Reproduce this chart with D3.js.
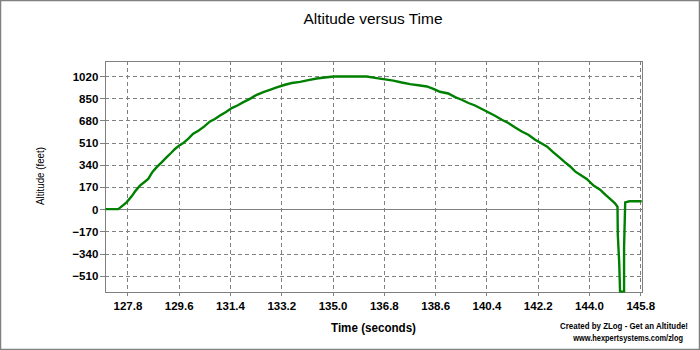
<!DOCTYPE html>
<html>
<head>
<meta charset="utf-8">
<script src="https://cdn.jsdelivr.net/npm/d3@7"></script>
<style>
html,body{margin:0;padding:0;background:#fff;}
svg{display:block;}
text{font-family:"Liberation Sans",Arial,sans-serif;fill:#000;}
</style>
</head>
<body>
<svg id="chart" width="700" height="350"></svg>
<script>
// ---- data ----
const times = [127.02,127.48,127.60,127.77,127.95,128.09,128.24,128.41,128.53,128.68,128.82,129.00,129.18,129.33,129.47,129.62,129.76,129.93,130.11,130.29,130.50,130.70,130.87,131.05,131.26,131.46,131.66,131.87,132.10,132.34,132.57,132.80,133.04,133.33,133.57,133.86,134.15,134.44,134.73,135.03,135.61,136.20,136.49,136.78,137.13,137.43,137.72,138.07,138.31,138.54,138.77,139.06,139.30,139.53,139.77,140.00,140.24,140.41,140.70,140.94,141.17,141.41,141.64,141.87,142.11,142.28,142.52,142.75,142.96,143.16,143.34,143.51,143.69,143.92,144.16,144.39,144.57,144.74,144.92,145.00,145.01,145.06,145.09,145.23,145.23,145.27,145.42,145.86];
const altitudes = [0,0,21,52,98,142,180,210,231,285,320,358,399,430,461,488,506,539,578,601,634,672,690,718,744,774,794,820,845,876,897,914,932,953,966,975,988,1001,1008,1016,1016,1016,1006,996,985,970,958,947,940,922,899,886,858,838,813,794,767,748,715,685,660,626,595,570,532,511,480,435,396,358,327,289,264,231,180,149,111,78,42,17,-195,-412,-632,-632,-297,52,60,60];
const xTicks = [127.8,129.6,131.4,133.2,135.0,136.8,138.6,140.4,142.2,144.0,145.8];
const yTicks = [-510,-340,-170,0,170,340,510,680,850,1020];
const chartTitle = "Altitude versus Time";
const xTitle = "Time (seconds)";
const yTitle = "Altitude (feet)";
const credits = ["Created by ZLog - Get an Altitude!", "www.hexpertsystems.com/zlog"];

// ---- layout ----
const W = 700, H = 350;
const L = 105.3, R = 641.7, T = 61.3, B = 291.7;
const svg = d3.select("#chart");

const x = d3.scaleLinear().domain([127.024, 145.849]).range([L, R]);
const y = d3.scaleLinear().domain([-632.6, 1132.6]).range([B, T]);

// outer border
svg.append("rect").attr("x",0.5).attr("y",0.5).attr("width",W-1).attr("height",H-1)
  .attr("fill","#fff").attr("stroke","#808080").attr("stroke-width",1.5);

// grid
const grid = svg.append("g").attr("shape-rendering","crispEdges");
grid.selectAll(".gx").data(xTicks).enter().append("line")
  .attr("x1",d=>Math.round(x(d))+0.5).attr("x2",d=>Math.round(x(d))+0.5)
  .attr("y1",T).attr("y2",B)
  .attr("stroke","#808080").attr("stroke-dasharray","4,3");
grid.selectAll(".gy").data(yTicks.filter(d=>d!==0)).enter().append("line")
  .attr("y1",d=>Math.round(y(d))+0.5).attr("y2",d=>Math.round(y(d))+0.5)
  .attr("x1",L).attr("x2",R)
  .attr("stroke","#808080").attr("stroke-dasharray","4,3");
// zero line
grid.append("line").attr("x1",L).attr("x2",R)
  .attr("y1",Math.round(y(0))+0.5).attr("y2",Math.round(y(0))+0.5)
  .attr("stroke","#808080");

// axes
const xAxis = d3.axisBottom(x).tickValues(xTicks).tickFormat(d3.format(".1f")).tickSize(4).tickPadding(4);
const yAxis = d3.axisLeft(y).tickValues(yTicks).tickFormat(d3.format("d")).tickSize(5).tickPadding(2);
const gx = svg.append("g").attr("transform",`translate(0,${B})`).call(xAxis);
const gy = svg.append("g").attr("transform",`translate(${L},0)`).call(yAxis);
[gx,gy].forEach(g=>{
  g.select(".domain").remove();
  g.selectAll(".tick line").attr("stroke","#808080").attr("shape-rendering","crispEdges");
  g.selectAll(".tick text").attr("font-family","'Liberation Sans',Arial,sans-serif")
    .attr("font-weight","bold").attr("font-size","11.5px").attr("fill","#000");
});
gy.selectAll(".tick text").attr("dy","0.35em");
gx.selectAll(".tick text").attr("dy","0.9em");

// frame
svg.append("rect").attr("x",Math.round(L)+0.5).attr("y",Math.round(T)+0.5)
  .attr("width",Math.round(R)-Math.round(L)).attr("height",Math.round(B)-Math.round(T))
  .attr("fill","none").attr("stroke","#808080").attr("shape-rendering","crispEdges");

// clip
svg.append("clipPath").attr("id","clip").append("rect")
  .attr("x",L).attr("y",T-2).attr("width",R-L).attr("height",B-T+3);

const pts = times.map((t,i)=>[t, altitudes[i]]);
svg.append("path").datum(pts)
  .attr("clip-path","url(#clip)")
  .attr("fill","none").attr("stroke","#008000").attr("stroke-width",2.4)
  .attr("stroke-linejoin","miter")
  .attr("d", d3.line().x(d=>x(d[0])).y(d=>y(d[1])));

// titles
svg.append("text").attr("x",373).attr("y",24).attr("text-anchor","middle")
  .attr("font-size","14px").attr("textLength",139).attr("lengthAdjust","spacingAndGlyphs")
  .text(chartTitle);
svg.append("text").attr("x",373.5).attr("y",332).attr("text-anchor","middle")
  .attr("font-size","12px").attr("font-weight","bold").attr("textLength",85).attr("lengthAdjust","spacingAndGlyphs")
  .text(xTitle);
svg.append("text").attr("transform","translate(44,176) rotate(-90)").attr("text-anchor","middle")
  .attr("font-size","10px").attr("textLength",58).attr("lengthAdjust","spacingAndGlyphs")
  .text(yTitle);

// credits: condensed horizontally to fit their measured widths
function credit(str, xRight, yBase, width){
  const t = svg.append("text").attr("x",0).attr("y",0).attr("text-anchor","end")
    .attr("font-size","9.5px").attr("font-weight","bold").attr("fill","#101030").text(str);
  const nat = t.node().getComputedTextLength();
  const sx = width / nat;
  t.attr("transform",`translate(${xRight},${yBase}) scale(${sx},1)`);
}
credit(credits[0], 688, 329, 128);
credit(credits[1], 683, 341, 110);
</script>
</body>
</html>
